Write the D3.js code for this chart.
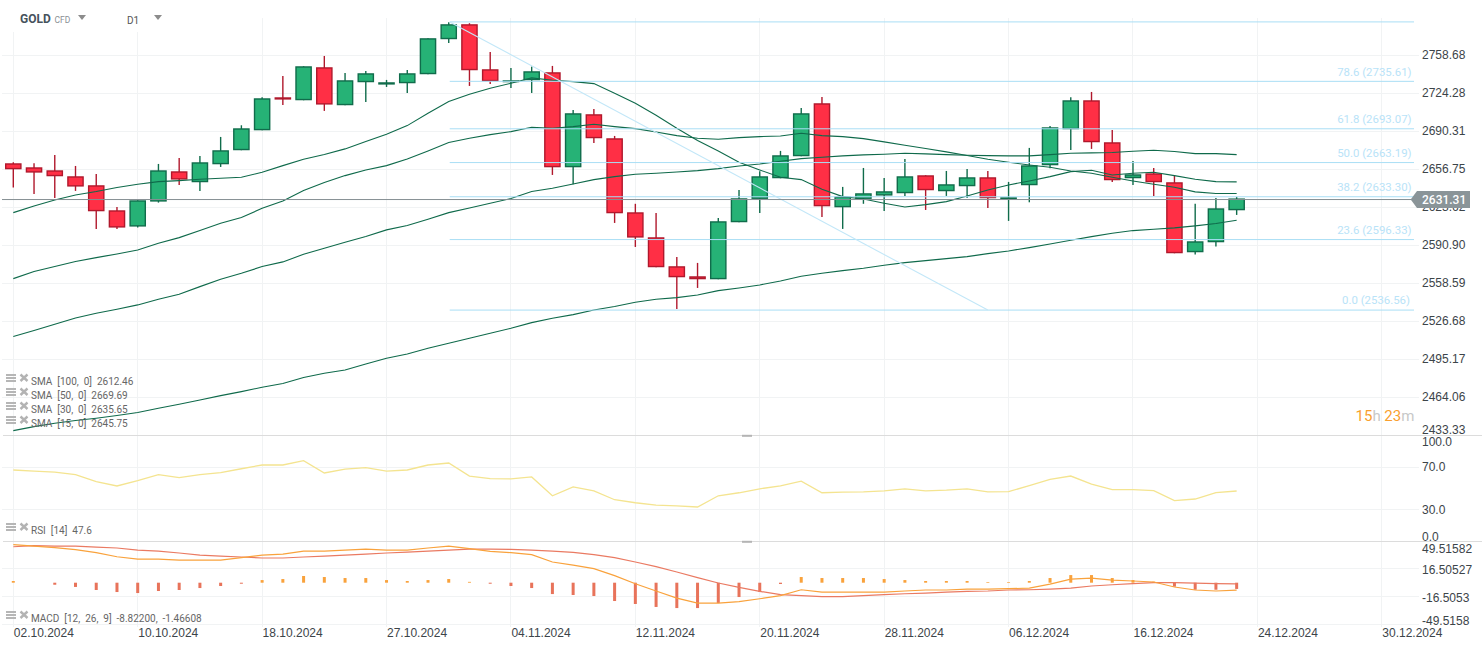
<!DOCTYPE html>
<html>
<head>
<meta charset="utf-8">
<script src="https://cdn.jsdelivr.net/npm/d3@7"></script>
<style>
  html, body { margin: 0; padding: 0; background: #fff; overflow: hidden; }
  svg { display: block; font-family: Roboto, sans-serif; }
  .tick-label text { fill: #3c4449; font-size: 12px; }
</style>
</head>
<body>
<svg id="plot"></svg>
<script>
// trading days, the last ones are the empty space on the right of the chart
const dates = ["02.10.2024","03.10.2024","04.10.2024","07.10.2024","08.10.2024","09.10.2024","10.10.2024","11.10.2024","14.10.2024","15.10.2024","16.10.2024","17.10.2024","18.10.2024","21.10.2024","22.10.2024","23.10.2024","24.10.2024","25.10.2024","27.10.2024","28.10.2024","29.10.2024","30.10.2024","31.10.2024","01.11.2024","04.11.2024","05.11.2024","06.11.2024","07.11.2024","08.11.2024","11.11.2024","12.11.2024","13.11.2024","14.11.2024","15.11.2024","18.11.2024","19.11.2024","20.11.2024","21.11.2024","22.11.2024","25.11.2024","26.11.2024","27.11.2024","28.11.2024","29.11.2024","02.12.2024","03.12.2024","04.12.2024","05.12.2024","06.12.2024","09.12.2024","10.12.2024","11.12.2024","12.12.2024","13.12.2024","16.12.2024","17.12.2024","18.12.2024","19.12.2024","20.12.2024","23.12.2024","24.12.2024","25.12.2024","26.12.2024","27.12.2024","28.12.2024","29.12.2024","30.12.2024"];
const dateTicks = ["02.10.2024","10.10.2024","18.10.2024","27.10.2024","04.11.2024","12.11.2024","20.11.2024","28.11.2024","06.12.2024","16.12.2024","24.12.2024","30.12.2024"];

const opens = [2662.05,2658.52,2655.88,2650.65,2642.80,2621.04,2606.97,2628.56,2655.01,2645.42,2661.16,2673.53,2691.20,2720.70,2718.02,2747.82,2713.55,2734.24,2732.12,2733.33,2741.48,2773.37,2787.14,2746.01,2734.24,2736.05,2743.29,2658.52,2705.51,2684.13,2619.31,2597.79,2573.05,2564.54,2561.99,2610.70,2630.89,2648.90,2668.23,2715.34,2623.62,2630.89,2633.79,2635.83,2651.52,2637.57,2641.93,2649.78,2630.89,2642.80,2660.28,2692.10,2718.02,2680.59,2648.90,2653.26,2645.42,2584.95,2593.49,2621.04];
const highs = [2662.93,2662.05,2669.41,2659.69,2652.68,2623.91,2629.72,2661.46,2666.76,2668.52,2685.31,2695.67,2720.70,2739.97,2748.72,2758.08,2742.68,2744.50,2736.35,2745.40,2774.29,2788.97,2788.06,2761.74,2747.21,2748.42,2749.02,2709.38,2710.27,2686.19,2626.66,2618.74,2580.98,2575.88,2614.44,2638.73,2655.01,2672.94,2711.17,2721.00,2641.35,2657.93,2649.19,2665.87,2651.52,2655.30,2657.04,2655.30,2645.71,2675.59,2695.08,2720.70,2725.49,2691.50,2664.11,2657.93,2651.52,2626.66,2631.76,2632.63];
const lows = [2640.77,2635.25,2631.76,2637.86,2604.96,2604.96,2606.11,2627.69,2643.09,2637.86,2658.81,2673.53,2691.20,2713.85,2718.02,2708.49,2713.55,2716.53,2729.99,2724.58,2741.48,2769.99,2730.91,2732.72,2729.10,2724.58,2651.81,2643.67,2680.01,2610.11,2589.48,2572.20,2537.04,2554.67,2561.99,2610.70,2618.74,2648.90,2668.23,2615.30,2604.96,2626.66,2620.46,2633.50,2621.32,2633.50,2631.76,2623.05,2611.85,2627.97,2657.63,2673.82,2674.71,2645.71,2643.09,2633.50,2584.10,2582.97,2589.77,2617.02];
const closes = [2656.75,2653.84,2650.65,2641.64,2620.18,2606.11,2629.72,2655.88,2647.74,2662.93,2673.53,2692.99,2719.81,2718.62,2748.72,2714.15,2736.05,2742.38,2734.24,2742.38,2774.29,2787.14,2745.10,2735.14,2736.05,2744.19,2658.52,2706.40,2684.13,2618.45,2597.50,2572.20,2563.69,2561.99,2611.57,2631.47,2650.65,2669.11,2706.40,2624.48,2632.92,2635.83,2637.57,2650.65,2638.44,2643.67,2649.78,2631.47,2632.34,2660.28,2693.88,2718.02,2680.59,2647.16,2652.39,2645.42,2584.10,2594.35,2622.76,2631.31];

const sma15 = [2619.03,2624.78,2630.00,2634.37,2637.28,2640.77,2643.67,2646.00,2646.87,2648.03,2648.90,2649.78,2654.13,2659.99,2665.58,2669.70,2674.71,2681.18,2687.66,2695.37,2706.40,2716.83,2723.39,2728.80,2733.33,2738.16,2736.05,2734.84,2733.03,2724.28,2715.34,2704.61,2692.99,2682.07,2672.94,2662.93,2656.17,2649.78,2647.74,2639.31,2632.92,2630.89,2627.11,2623.91,2625.95,2628.56,2633.50,2638.73,2643.09,2646.58,2650.36,2654.72,2655.88,2651.81,2653.26,2654.13,2651.23,2648.03,2646.00,2645.75];
const sma30 = [2562.56,2568.51,2572.76,2577.01,2580.41,2583.53,2586.93,2592.62,2597.50,2603.53,2609.84,2614.72,2622.76,2629.14,2638.15,2645.13,2651.23,2656.17,2659.99,2665.87,2672.94,2680.30,2684.13,2687.37,2690.01,2693.88,2692.99,2694.48,2696.57,2694.48,2692.70,2689.72,2686.48,2684.13,2683.24,2684.72,2685.60,2686.19,2688.54,2686.48,2685.60,2683.83,2680.89,2677.95,2675.00,2672.06,2668.82,2665.58,2662.93,2660.57,2658.52,2655.30,2653.26,2649.78,2646.58,2643.67,2641.06,2636.99,2635.60,2635.65];
const sma50 = [2513.97,2518.94,2524.19,2529.48,2533.40,2536.76,2540.40,2545.15,2549.35,2555.79,2561.99,2567.09,2572.76,2576.73,2583.25,2588.35,2593.49,2598.37,2604.11,2607.84,2613.30,2619.03,2623.05,2627.11,2631.18,2637.28,2640.19,2643.96,2647.74,2650.36,2652.39,2653.26,2654.42,2655.59,2657.34,2659.69,2661.46,2663.81,2666.17,2667.35,2668.52,2669.41,2670.00,2670.88,2670.29,2669.70,2669.11,2668.82,2668.52,2668.52,2669.70,2670.88,2671.17,2671.47,2672.65,2673.53,2672.35,2670.58,2670.58,2669.69];
const sma100 = [2437.10,2440.33,2443.03,2445.19,2447.08,2449.23,2451.66,2455.16,2458.40,2461.90,2465.42,2468.70,2472.25,2475.25,2480.16,2483.71,2486.44,2491.35,2496.00,2499.59,2504.29,2508.44,2512.58,2516.73,2520.88,2525.57,2529.20,2532.28,2536.20,2539.00,2542.64,2545.15,2546.55,2548.79,2552.43,2554.67,2557.19,2560.58,2564.54,2567.09,2569.36,2571.34,2573.90,2576.16,2577.86,2579.56,2581.26,2583.81,2586.08,2588.92,2592.05,2595.21,2598.37,2601.23,2603.53,2604.68,2605.83,2607.55,2609.56,2612.46];

const rsi = [67.8,66.8,65.8,63.3,56.5,52.4,57.5,63.3,60.4,63.3,65.2,69.0,72.6,72.6,76.7,64.9,68.7,70.0,66.8,67.8,72.6,74.5,62.0,59.4,59.2,61.1,43.0,51.6,47.8,39.2,36.3,34.1,33.2,32.2,43.0,45.9,49.7,52.5,57.0,45.9,46.5,46.8,47.8,49.7,47.8,48.4,49.7,46.8,47.0,52.7,58.8,62.0,54.3,48.9,48.9,47.9,38.3,39.9,46.0,47.6];

const macd = [44.8,43.2,41.3,38.9,35.4,30.6,27.9,27.9,26.7,26.7,26.7,29.5,32.6,33.8,37.3,37.3,38.5,39.7,38.5,38.5,40.9,43.2,40.1,36.9,35.4,33.0,24.4,20.8,16.5,8.3,-1.2,-9.8,-18.1,-24.0,-24.0,-22.4,-18.9,-15.3,-8.3,-11.0,-11.0,-11.0,-11.0,-9.8,-8.6,-8.6,-7.5,-7.5,-7.1,-6.3,-1.6,4.3,5.5,3.1,2.0,0.8,-5.1,-8.6,-9.8,-8.822];
const signal = [42.4,43.6,43.2,43.2,42.0,40.9,38.5,37.3,35.0,32.6,31.4,30.3,29.1,29.1,30.3,31.4,32.6,33.8,35.0,36.1,37.3,38.5,39.7,39.7,39.3,38.5,37.3,35.8,33.0,29.5,24.4,18.9,12.6,5.9,-0.4,-5.5,-10.2,-14.1,-15.3,-16.5,-16.5,-15.3,-14.1,-13.0,-12.2,-11.0,-10.2,-9.8,-8.6,-8.3,-7.5,-6.3,-3.9,-2.4,-1.2,0,0,-0.4,-1.2,-1.466];
const hist = [2.0,0,-2.4,-5.0,-8.6,-11.0,-12.2,-9.8,-8.6,-6.3,-3.9,-1.2,3.1,4.3,7.9,6.7,5.5,5.5,3.1,2.0,3.1,4.3,1.0,-1.2,-3.9,-6.3,-13.4,-14.5,-15.7,-21.6,-25.1,-28.6,-29.9,-29.9,-24.0,-16.9,-11.0,-1.5,6.7,5.5,5.5,5.5,4.3,3.1,2.0,2.0,2.0,0.8,0.8,2.0,5.5,9.0,9.0,5.5,3.1,1.2,-4.7,-8.3,-8.3,-7.36];

const priceTicks = [2758.68,2724.28,2690.31,2656.75,2623.62,2590.90,2558.59,2526.68,2495.17,2464.06,2433.33];
const rsiTicks = [100,70,30,0];
const macdTicks = [49.51582,16.50527,-16.5053,-49.5158];

// fibonacci retracement
const fibLevels = ["0.0","23.6","38.2","50.0","61.8","78.6","100.0"];
const fibPrices = [2536.56,2596.33,2633.30,2663.19,2693.07,2735.61,2789.82];
const fibStart = dates[21], fibEnd = dates[47];

const lastPrice = 2631.31;
const legendSma = ["SMA  [100,  0]  2612.46","SMA  [50,  0]  2669.69","SMA  [30,  0]  2635.65","SMA  [15,  0]  2645.75"];

let width = 1482, height = 650;
let plotLeft = 2, plotRight = 1419, fibRight = 1414, axisX = 1422;
let fibShift = 0.6, lastShift = 1.1;

let svg = d3.select('#plot').attr('width', width).attr('height', height);

let x = d3.scalePoint().domain(dates).range([13.3, 1381.8]);
let y = d3.scaleLog().domain([2433.33, 2758.68]).range([435.3, 55.3]);
let yRsi = d3.scaleLinear().domain([0, 100]).range([540.5, 436.5]);
let yMacd = d3.scaleLinear().domain([-49.5158, 49.51582]).range([624.7, 540.7]);
let idx = d3.range(opens.length);
let crisp = v => Math.floor(v) + 0.5;

// grid
let grid = svg.append('g').attr('stroke', '#f1f3f4').attr('stroke-width', 1);
grid.selectAll('.v').data(dateTicks).enter().append('line')
  .attr('x1', d => crisp(x(d))).attr('x2', d => crisp(x(d)))
  .attr('y1', 18).attr('y2', 627);
let gridY = priceTicks.slice(0, -1).map(d => y(d))
  .concat(rsiTicks.slice(1, 3).map(d => yRsi(d)))
  .concat(macdTicks.slice(1).map(d => yMacd(d)));
grid.selectAll('.h').data(gridY).enter().append('line')
  .attr('x1', plotLeft).attr('x2', plotRight)
  .attr('y1', d => crisp(d)).attr('y2', d => crisp(d));

// the header hides the first grid lines
svg.append('rect').attr('x', 0).attr('y', 0).attr('width', 170).attr('height', 32).attr('fill', '#fff');

// candles
let up = i => closes[i] >= opens[i];
let stroke = i => up(i) ? '#106c4b' : '#b0182c';
let candles = svg.append('g');
candles.selectAll('.wick').data(idx).enter().append('line')
  .attr('x1', i => x(dates[i])).attr('x2', i => x(dates[i]))
  .attr('y1', i => y(highs[i])).attr('y2', i => y(lows[i]))
  .attr('stroke', stroke).attr('stroke-width', 1.4);
candles.selectAll('.body').data(idx).enter().append('rect')
  .attr('x', i => x(dates[i]) - 7.6)
  .attr('width', 15.2)
  .attr('y', i => Math.min(y(opens[i]), y(closes[i])) + 0.7)
  .attr('height', i => Math.max(Math.abs(y(opens[i]) - y(closes[i])) - 1.4, 0.6))
  .attr('fill', i => up(i) ? '#26b276' : '#ff2f45')
  .attr('stroke', stroke).attr('stroke-width', 1.4);

// moving averages
let priceLine = d3.line().x((d, i) => x(dates[i])).y(d => y(d));
[sma100, sma50, sma30, sma15].forEach(s => {
  svg.append('path').attr('d', priceLine(s))
    .attr('fill', 'none').attr('stroke', '#0f6a4b').attr('stroke-width', 1.1);
});

// fibonacci
let fibColor = '#a9def5';
svg.selectAll('.fib').data(fibPrices).enter().append('line')
  .attr('x1', x(fibStart) + 1).attr('x2', fibRight)
  .attr('y1', d => y(d) + fibShift).attr('y2', d => y(d) + fibShift)
  .attr('stroke', fibColor).attr('stroke-width', 1);
svg.append('line')
  .attr('x1', x(fibStart) + 1).attr('y1', y(fibPrices[6]) + fibShift)
  .attr('x2', x(fibEnd)).attr('y2', y(fibPrices[0]) + fibShift)
  .attr('stroke', '#c2e7f8').attr('stroke-width', 1.1);
svg.selectAll('.fibLabel').data(fibPrices.slice(0, 6)).enter().append('text')
  .attr('x', (d, i) => i == 0 ? 1410 : 1411.5).attr('y', d => y(d) - 5)
  .attr('text-anchor', 'end').attr('font-size', 11.4).attr('fill', '#b9e3f8')
  .text((d, i) => fibLevels[i] + ' (' + d.toFixed(2) + ')');

// last price line and axes
svg.append('line')
  .attr('x1', plotLeft).attr('x2', 1412)
  .attr('y1', y(lastPrice) + lastShift).attr('y2', y(lastPrice) + lastShift)
  .attr('stroke', '#868f93').attr('stroke-width', 1);

let priceAxis = svg.append('g').attr('class', 'tick-label')
  .attr('transform', `translate(${axisX}, 0)`)
  .call(d3.axisRight(y).tickValues(priceTicks).tickFormat(d3.format('.2f')).tickSize(0).tickPadding(0));
priceAxis.select('.domain').remove();
priceAxis.selectAll('text').attr('dy', d => d == 2433.33 ? '-0.15em' : '0.28em');

let rsiAxis = svg.append('g').attr('class', 'tick-label')
  .attr('transform', `translate(${axisX}, 0)`)
  .call(d3.axisRight(yRsi).tickValues(rsiTicks).tickFormat(d3.format('.1f')).tickSize(0).tickPadding(0));
rsiAxis.select('.domain').remove();
rsiAxis.selectAll('text').attr('dy', d => d == 100 ? '0.78em' : d == 0 ? '0em' : d == 30 ? '0.33em' : '0.25em');

let macdFormat = d => String(d);
let macdAxis = svg.append('g').attr('class', 'tick-label')
  .attr('transform', `translate(${axisX}, 0)`)
  .call(d3.axisRight(yMacd).tickValues(macdTicks).tickFormat(macdFormat).tickSize(0).tickPadding(0));
macdAxis.select('.domain').remove();
macdAxis.selectAll('text').attr('dy', d => d == macdTicks[0] ? '1em' : d == macdTicks[3] ? '0em' : '0.42em');

let dateAxis = svg.append('g').attr('class', 'tick-label')
  .attr('transform', 'translate(0, 625)')
  .call(d3.axisBottom(x).tickValues(dateTicks).tickSize(0).tickPadding(3));
dateAxis.select('.domain').remove();
dateAxis.selectAll('text').attr('text-anchor', 'start');

// price tag
let tagY = y(lastPrice) + lastShift;
svg.append('path')
  .attr('d', d3.line()([[1410.7, tagY], [1417, tagY - 8.5], [1470, tagY - 8.5], [1470, tagY + 8.5], [1417, tagY + 8.5]]) + 'Z')
  .attr('fill', '#8a9498');
svg.append('text').attr('x', 1422).attr('y', tagY).attr('dy', '0.35em')
  .attr('fill', '#fff').attr('font-size', 12).attr('font-weight', 500).text(d3.format('.2f')(lastPrice));

// rsi pane
svg.append('path')
  .attr('d', d3.line().x((d, i) => x(dates[i])).y(d => yRsi(d))(rsi))
  .attr('fill', 'none').attr('stroke', '#f4e490').attr('stroke-width', 1.3);

// macd pane
let zero = yMacd(0);
svg.selectAll('.hist').data(hist).enter().append('rect')
  .attr('x', (d, i) => x(dates[i]) - 1.5).attr('width', 3)
  .attr('y', d => d >= 0 ? yMacd(d) : zero)
  .attr('height', d => Math.abs(yMacd(d) - zero))
  .attr('fill', d => d >= 0 ? '#f9a23c' : '#e8735a');
let macdLine = d3.line().x((d, i) => x(dates[i])).y(d => yMacd(d));
svg.append('path').attr('d', macdLine(signal)).attr('fill', 'none').attr('stroke', '#ea7a62').attr('stroke-width', 1.2);
svg.append('path').attr('d', macdLine(macd)).attr('fill', 'none').attr('stroke', '#f9a23c').attr('stroke-width', 1.2);

// pane separators and handles
[435.5, 541.5].forEach(sy => {
  svg.append('line').attr('x1', 3).attr('x2', width).attr('y1', sy).attr('y2', sy)
    .attr('stroke', '#dcdcdc').attr('stroke-width', 1);
  svg.append('rect').attr('x', 742).attr('y', sy - 0.7).attr('width', 10).attr('height', 2).attr('fill', '#b4b4b4');
});

// legends
function legendRow(rowY, label) {
  let g = svg.append('g').attr('transform', `translate(0, ${rowY})`);
  [-6.5, -3.5, -0.5].forEach(ly => {
    g.append('line').attr('x1', 6).attr('x2', 16).attr('y1', ly).attr('y2', ly)
      .attr('stroke', '#b3b3b3').attr('stroke-width', 1.9);
  });
  g.append('path').attr('d', 'M20.5,-7 L27.5,-0.5 M27.5,-7 L20.5,-0.5')
    .attr('stroke', '#b3b3b3').attr('stroke-width', 2.4);
  g.append('text').attr('x', 31).attr('y', 3.5).attr('font-size', 10).attr('fill', '#666')
    .style('white-space', 'pre').text(label);
}
legendSma.forEach((t, i) => legendRow(381.5 + i * 14, t));
legendRow(530.5, 'RSI  [14]  47.6');
legendRow(618.5, 'MACD  [12,  26,  9]  -8.82200,  -1.46608');

// header
let head = svg.append('g');
head.append('text').attr('x', 20).attr('y', 23).attr('font-size', 12).attr('font-weight', 700).attr('fill', '#46525c').text('GOLD');
head.append('text').attr('x', 54.5).attr('y', 22.5).attr('font-size', 8.5).attr('fill', '#8a8f94').text('CFD');
head.append('text').attr('x', 127).attr('y', 24).attr('font-size', 10).attr('fill', '#555').text('D1');
[78, 154].forEach(tx => {
  head.append('path').attr('d', `M${tx},15 h8 l-4,5 Z`).attr('fill', '#8c8c8c');
});

// countdown
let timer = svg.append('text').attr('x', 1355.5).attr('y', 421).attr('font-size', 15);
timer.append('tspan').attr('fill', '#f99f2e').text('15');
timer.append('tspan').attr('fill', '#c8c8c8').text('h ');
timer.append('tspan').attr('fill', '#f99f2e').text('23');
timer.append('tspan').attr('fill', '#c8c8c8').text('m');
</script>
</body>
</html>
